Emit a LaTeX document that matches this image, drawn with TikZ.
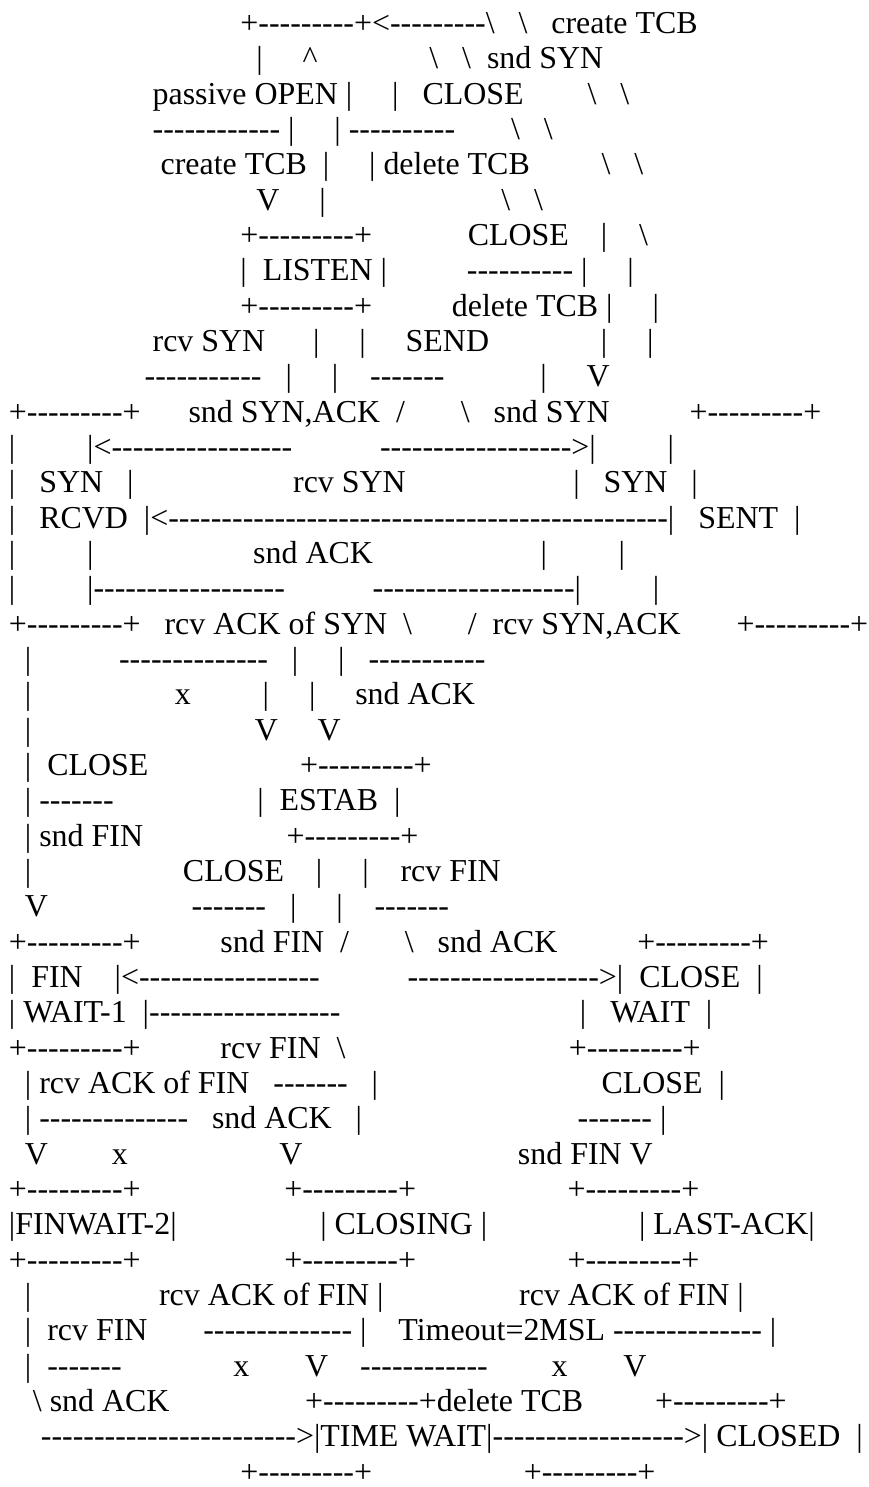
\documentclass[tikz,border=0pt]{standalone}
\usepackage{fontspec}
\newfontfamily\asc{Liberation Serif}[Ligatures={TeXOff}]
\newcommand{\SP}[1]{\kern#1\fontdimen2\font}
\newcommand{\bsl}{\textbackslash}
\newcommand{\crt}{\textasciicircum}
\frenchspacing
\begin{document}
\begin{tikzpicture}[x=1pt,y=-35.41pt,
  ln/.style={anchor=base west, inner sep=0pt, outer sep=0pt, text=black,
    font=\asc\fontsize{32.0}{35.4}\selectfont}]
\fill[white] (0,-0.1) rectangle (871,41.9);
\useasboundingbox (0pt,0pt) rectangle (871pt,-1487pt);
\begin{scope}[yshift=-30.2pt]
\node[ln] (l1) at (1,0) {\SP{30}+---------+<---------\bsl\SP{3}\bsl\SP{3}create~TCB};
\node[ln] (l2) at (1,1) {\SP{32}|\SP{5}\crt\SP{14}\bsl\SP{3}\bsl\SP{2}snd~SYN};
\node[ln] (l3) at (1,2) {\SP{19}passive~OPEN~|\SP{5}|\SP{3}CLOSE\SP{8}\bsl\SP{3}\bsl};
\node[ln] (l4) at (1,3) {\SP{19}------------~|\SP{5}|~----------\SP{7}\bsl\SP{3}\bsl};
\node[ln] (l5) at (1,4) {\SP{20}create~TCB\SP{2}|\SP{5}|~delete~TCB\SP{9}\bsl\SP{3}\bsl};
\node[ln] (l6) at (1,5) {\SP{32}V\SP{5}|\SP{22}\bsl\SP{3}\bsl};
\node[ln] (l7) at (1,6) {\SP{30}+---------+\SP{12}CLOSE\SP{4}|\SP{4}\bsl};
\node[ln] (l8) at (1,7) {\SP{30}|\SP{2}LISTEN~|\SP{10}----------~|\SP{5}|};
\node[ln] (l9) at (1,8) {\SP{30}+---------+\SP{10}delete~TCB~|\SP{5}|};
\node[ln] (l10) at (1,9) {\SP{19}rcv~SYN\SP{6}|\SP{5}|\SP{5}SEND\SP{14}|\SP{5}|};
\node[ln] (l11) at (1,10) {\SP{18}-----------\SP{3}|\SP{5}|\SP{4}-------\SP{12}|\SP{5}V};
\node[ln] (l12) at (1,11) {~+---------+\SP{6}snd~SYN,ACK\SP{2}/\SP{7}\bsl\SP{3}snd~SYN\SP{10}+---------+};
\node[ln] (l13) at (1,12) {~|\SP{9}|<-----------------\SP{11}------------------>|\SP{9}|};
\node[ln] (l14) at (1,13) {~|\SP{3}SYN\SP{3}|\SP{20}rcv~SYN\SP{21}|\SP{3}SYN\SP{3}|};
\node[ln] (l15) at (1,14) {~|\SP{3}RCVD\SP{2}|<-----------------------------------------------|\SP{3}SENT\SP{2}|};
\node[ln] (l16) at (1,15) {~|\SP{9}|\SP{20}snd~ACK\SP{21}|\SP{9}|};
\node[ln] (l17) at (1,16) {~|\SP{9}|------------------\SP{11}-------------------|\SP{9}|};
\node[ln] (l18) at (1,17) {~+---------+\SP{3}rcv~ACK~of~SYN\SP{2}\bsl\SP{7}/\SP{2}rcv~SYN,ACK\SP{7}+---------+};
\node[ln] (l19) at (1,18) {\SP{3}|\SP{11}--------------\SP{3}|\SP{5}|\SP{3}-----------};
\node[ln] (l20) at (1,19) {\SP{3}|\SP{18}x\SP{9}|\SP{5}|\SP{5}snd~ACK};
\node[ln] (l21) at (1,20) {\SP{3}|\SP{28}V\SP{5}V};
\node[ln] (l22) at (1,21) {\SP{3}|\SP{2}CLOSE\SP{19}+---------+};
\node[ln] (l23) at (1,22) {\SP{3}|~-------\SP{18}|\SP{2}ESTAB\SP{2}|};
\node[ln] (l24) at (1,23) {\SP{3}|~snd~FIN\SP{18}+---------+};
\node[ln] (l25) at (1,24) {\SP{3}|\SP{19}CLOSE\SP{4}|\SP{5}|\SP{4}rcv~FIN};
\node[ln] (l26) at (1,25) {\SP{3}V\SP{18}-------\SP{3}|\SP{5}|\SP{4}-------};
\node[ln] (l27) at (1,26) {~+---------+\SP{10}snd~FIN\SP{2}/\SP{7}\bsl\SP{3}snd~ACK\SP{10}+---------+};
\node[ln] (l28) at (1,27) {~|\SP{2}FIN\SP{4}|<-----------------\SP{11}------------------>|\SP{2}CLOSE\SP{2}|};
\node[ln] (l29) at (1,28) {~|~WAIT-1\SP{2}|------------------\SP{30}|\SP{3}WAIT\SP{2}|};
\node[ln] (l30) at (1,29) {~+---------+\SP{10}rcv~FIN\SP{2}\bsl\SP{28}+---------+};
\node[ln] (l31) at (1,30) {\SP{3}|~rcv~ACK~of~FIN\SP{3}-------\SP{3}|\SP{28}CLOSE\SP{2}|};
\node[ln] (l32) at (1,31) {\SP{3}|~--------------\SP{3}snd~ACK\SP{3}|\SP{27}-------~|};
\node[ln] (l33) at (1,32) {\SP{3}V\SP{8}x\SP{19}V\SP{27}snd~FIN~V};
\node[ln] (l34) at (1,33) {~+---------+\SP{18}+---------+\SP{19}+---------+};
\node[ln] (l35) at (1,34) {~|FINWAIT-2|\SP{18}|~CLOSING~|\SP{19}|~LAST-ACK|};
\node[ln] (l36) at (1,35) {~+---------+\SP{18}+---------+\SP{19}+---------+};
\node[ln] (l37) at (1,36) {\SP{3}|\SP{16}rcv~ACK~of~FIN~|\SP{17}rcv~ACK~of~FIN~|};
\node[ln] (l38) at (1,37) {\SP{3}|\SP{2}rcv~FIN\SP{7}--------------~|\SP{4}Timeout=2MSL~--------------~|};
\node[ln] (l39) at (1,38) {\SP{3}|\SP{2}-------\SP{14}x\SP{7}V\SP{4}------------\SP{8}x\SP{7}V};
\node[ln] (l40) at (1,39) {\SP{4}\bsl~snd~ACK\SP{17}+---------+delete~TCB\SP{9}+---------+};
\node[ln] (l41) at (1,40) {\SP{5}------------------------>|TIME~WAIT|------------------>|~CLOSED\SP{2}|};
\node[ln] (l42) at (1,41) {\SP{30}+---------+\SP{19}+---------+};
\end{scope}
\end{tikzpicture}
\end{document}
